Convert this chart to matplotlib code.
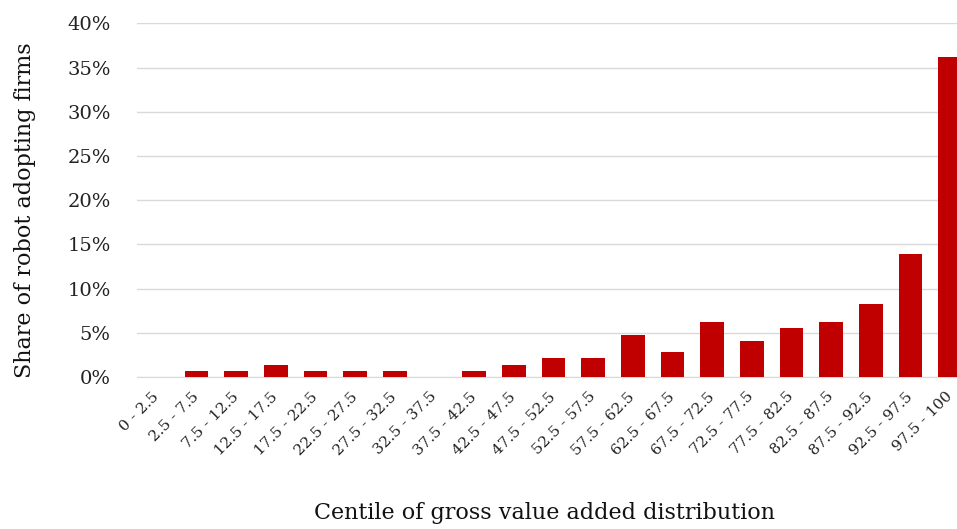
import matplotlib.pyplot as plt
import matplotlib.transforms as mtransforms
from matplotlib.ticker import PercentFormatter

# Centile bands and share of robot adopting firms (%)
centiles = ['0 - 2.5', '2.5 - 7.5', '7.5 - 12.5', '12.5 - 17.5', '17.5 - 22.5',
            '22.5 - 27.5', '27.5 - 32.5', '32.5 - 37.5', '37.5 - 42.5', '42.5 - 47.5',
            '47.5 - 52.5', '52.5 - 57.5', '57.5 - 62.5', '62.5 - 67.5', '67.5 - 72.5',
            '72.5 - 77.5', '77.5 - 82.5', '82.5 - 87.5', '87.5 - 92.5', '92.5 - 97.5',
            '97.5 - 100']
share = [0.0, 0.7, 0.7, 1.4, 0.7,
         0.7, 0.7, 0.0, 0.7, 1.4,
         2.1, 2.1, 4.8, 2.8, 6.2,
         4.1, 5.5, 6.2, 8.3, 13.9,
         36.2]

plt.rcParams['font.family'] = ['DejaVu Serif']

fig = plt.figure(figsize=(9.57, 5.29), dpi=100)
ax = fig.add_axes([137/957, (529-377)/529, 833/957, 353.5/529])

x = range(len(centiles))
ax.bar(x, share, width=0.6, color='#C00000', zorder=3)

ax.set_xlim(-0.5, len(centiles) - 0.5)
ax.set_ylim(0, 40)
ax.set_yticks(range(0, 41, 5))
ax.yaxis.set_major_formatter(PercentFormatter(decimals=0))
ax.grid(True, axis='y', color='#d9d9d9', linewidth=1.0, zorder=0)

ax.set_xticks(list(x))
ax.set_xticklabels(centiles, rotation=45, ha='right', rotation_mode='anchor',
                   fontsize=11, color='#222222')
ax.tick_params(axis='y', labelsize=14, length=0, pad=19, labelcolor='#222222')
ax.tick_params(axis='x', length=0, pad=9)

# nudge the rotated labels a few pixels left so the last one stays inside
shift = mtransforms.ScaledTranslation(-5/100, 0, fig.dpi_scale_trans)
for lab in ax.get_xticklabels():
    lab.set_transform(lab.get_transform() + shift)

for s in ['top', 'right', 'left']:
    ax.spines[s].set_visible(False)
ax.spines['bottom'].set_color('#d9d9d9')

#Naming
fig.text(25/957, 1 - 210/529, 'Share of robot adopting firms', fontsize=16,
         rotation=90, ha='center', va='center', color='#111111')
fig.text(545/957, 1 - 513/529, 'Centile of gross value added distribution',
         fontsize=16, ha='center', va='center', color='#111111')

fig.savefig('out.png', dpi=100)
